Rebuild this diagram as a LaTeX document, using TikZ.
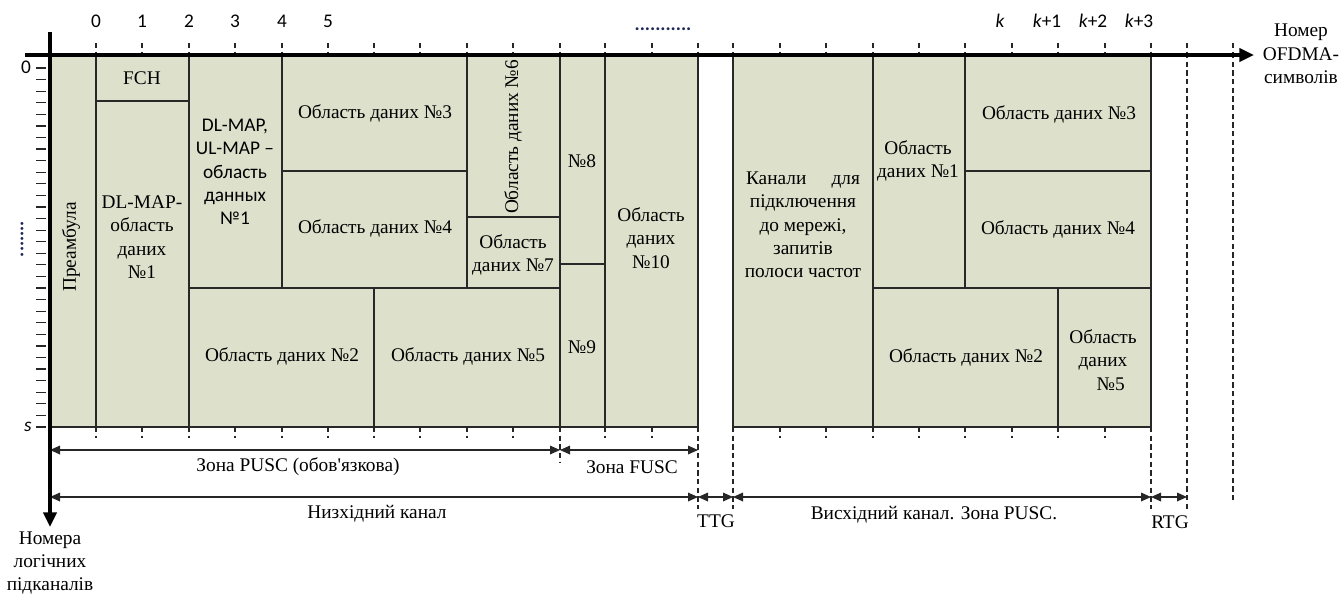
\documentclass[tikz,border=0pt]{standalone}
\usepackage{fontspec}
\setmainfont{Liberation Serif}
\newfontfamily\rawserif{Liberation Serif}[Ligatures=TeXOff]
\newfontfamily\calfont{Carlito}
\usetikzlibrary{arrows.meta}
\definecolor{zonefill}{RGB}{221,225,204}
\definecolor{boxline}{RGB}{40,40,40}
\definecolor{dotblue}{RGB}{30,40,90}
\begin{document}
\begin{tikzpicture}[x=0.75pt,y=-0.75pt,
  box/.style={draw=boxline,line width=1pt,fill=zonefill},
  lbl/.style={font=\fontsize{14.5}{17.5}\selectfont,align=center,inner sep=0pt},
  sanslbl/.style={font=\calfont\fontsize{14.5}{17.5}\selectfont,align=center,inner sep=0pt},
  tickd/.style={draw=black!85,line width=0.9pt,dash pattern=on 4pt off 2.5pt},
  dimline/.style={{Triangle[length=7.5pt,width=6.5pt]}-{Triangle[length=7.5pt,width=6.5pt]},line width=0.9pt,draw=black!85},
  axis/.style={line width=2.4pt,-{Triangle[length=11pt,width=10pt]}}
]
\useasboundingbox (0,0) rectangle (1342,594);

% ---- downlink boxes
\draw[box] (50,55) rectangle (96,427);
\draw[box] (96,55) rectangle (189,101);
\draw[box] (96,101) rectangle (189,427);
\draw[box] (189,55) rectangle (282,288);
\draw[box] (282,55) rectangle (467,171);
\draw[box] (282,171) rectangle (467,288);
\draw[box] (467,55) rectangle (560,217);
\draw[box] (467,217) rectangle (560,288);
\draw[box] (189,288) rectangle (374,427);
\draw[box] (374,288) rectangle (560,427);
\draw[box] (560,55) rectangle (605,264);
\draw[box] (560,264) rectangle (605,427);
\draw[box] (605,55) rectangle (698,427);
% ---- uplink boxes
\draw[box] (733,55) rectangle (873,427);
\draw[box] (873,55) rectangle (965,288);
\draw[box] (965,55) rectangle (1151,171);
\draw[box] (965,171) rectangle (1151,288);
\draw[box] (873,288) rectangle (1058,427);
\draw[box] (1058,288) rectangle (1151,427);

% ---- box texts
\node[lbl,rotate=90] (pre) at (71,247) {Преамбула};
\node[lbl] (fch) at (142,78) {FCH};
\node[lbl] (dlmap) at (142,237) {DL-MAP-\\область\\даних\\№1};
\node[sanslbl] (dlul) at (235,172) {DL-MAP,\\UL-MAP –\\область\\данных\\№1};
\node[lbl] (d3) at (375,113) {Область даних №3};
\node[lbl] (d4) at (375,228) {Область даних №4};
\node[lbl,rotate=90] (d6) at (513,137) {Область даних №6};
\node[lbl] (d7) at (513,255) {Область\\даних №7};
\node[lbl] (d2) at (282,356) {Область даних №2};
\node[lbl] (d5) at (468,356) {Область даних №5};
\node[lbl] (d8) at (582,161) {№8};
\node[lbl] (d9) at (582,347) {№9};
\node[lbl] (d10) at (651,238) {Область\\даних\\№10};
\node[lbl] (uch) at (803,225) {Канали\hspace{1.3em}для\\підключення\\до мережі,\\запитів\\полоси частот};
\node[lbl] (u1) at (918,161) {Область\\даних №1};
\node[lbl] (u3) at (1059,114) {Область даних №3};
\node[lbl] (u4) at (1058,229) {Область даних №4};
\node[lbl] (u2) at (966,357) {Область даних №2};
\node[lbl] (u5) at (1103,360) {Область\\даних\\\hspace{0.8em}№5};

% ---- column ticks
\foreach \x in {96,142,189,235,282,328,374,420,467,513,560,605,652,698,733,780,826,873,919,965,1012,1058,1105,1151,1187,1233}
  \draw[tickd] (\x,43) -- (\x,53);
\foreach \x in {96,142,189,235,282,328,374,420,467,513,560,605,652,698,733,780,826,873,919,965,1012,1058,1105,1151}
  \draw[tickd] (\x,427) -- (\x,438);
% long dashed boundaries
\draw[tickd] (560,427) -- (560,462);
\draw[tickd] (698,427) -- (698,509);
\draw[tickd] (733,427) -- (733,509);
\draw[tickd] (1151,427) -- (1151,509);
\draw[tickd] (1187,53) -- (1187,509);
\draw[tickd] (1233,53) -- (1233,501);

% ---- row ticks
\foreach \i in {0,...,31}
  \draw[line width=0.9pt,black!85] (36,{68+\i*11.58}) -- (46,{68+\i*11.58});

% ---- axis labels
\foreach \x/\t in {96/0,142/1,189/2,235/3,282/4,328/5}
  \node[sanslbl] (c\t) at (\x,21) {\t};
\node[sanslbl] (ck0) at (1000,21) {\textit{k}};
\node[sanslbl] (ck1) at (1047,21) {\textit{k}+1};
\node[sanslbl] (ck2) at (1093,21) {\textit{k}+2};
\node[sanslbl] (ck3) at (1139,21) {\textit{k}+3};
\node[font=\calfont\bfseries\fontsize{14.5}{17.5}\selectfont,inner sep=0pt,text=dotblue] (tdots) at (663,29) {...........};
\node[font=\calfont\bfseries\fontsize{14.5}{17.5}\selectfont,inner sep=0pt,text=dotblue,rotate=90] (ldots) at (22,239) {.......};
\node[sanslbl] (r0) at (26,67) {0};
\node[sanslbl] (rs) at (28,427) {\textit{s}};

% ---- dimension arrows
\coordinate (a0) at (50,450);
\coordinate (a1) at (560,450);
\coordinate (a2) at (698,450);
\coordinate (b0) at (50,497);
\coordinate (b1) at (698,497);
\coordinate (b2) at (733,497);
\coordinate (b3) at (1151,497);
\coordinate (b4) at (1187,497);
\draw[dimline] (a0) -- (a1);
\draw[dimline] (a1) -- (a2);
\draw[dimline] (b0) -- (b1);
\draw[dimline] (b1) -- (b2);
\draw[dimline] (b2) -- (b3);
\draw[dimline] (b3) -- (b4);
\node[lbl] (zpusc) at (298,467) {Зона PUSC (обов{\rawserif '}язкова)};
\node[lbl] (zfusc) at (632,467) {Зона FUSC};
\node[lbl] (down) at (377,514) {Низхідний канал};
\node[lbl] (ttg) at (716,521) {TTG};
\node[lbl] (up) at (934,515) {Висхідний канал. Зона PUSC.};
\node[lbl] (rtg) at (1170,522) {RTG};

% ---- axes
\coordinate (hx0) at (25,55);
\coordinate (hx1) at (1254,55);
\coordinate (vy0) at (50,32);
\coordinate (vy1) at (50,527);
\draw[axis] (hx0) -- (hx1);
\draw[axis] (vy0) -- (vy1);
\node[lbl] (hlab) at (1301,54) {Номер\\OFDMA-\\символів};
\node[lbl] (vlab) at (50,563) {Номера\\логічних\\підканалів};
\end{tikzpicture}
\end{document}
